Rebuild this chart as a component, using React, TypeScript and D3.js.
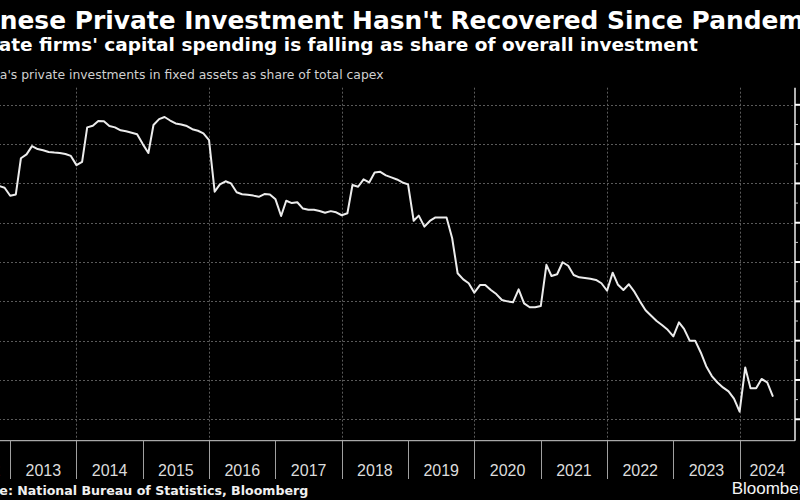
import React, { useEffect } from "react";
import * as d3 from "d3";

// ---- Data (share of private investment in fixed-asset investment, %) ----
const firstMonth = new Date(2012, 10, 1); // Nov 2012
const share2012 = [61.87, 61.78];
const share2013 = [61.37, 61.44, 63.28, 63.48, 63.9, 63.75, 63.69, 63.6, 63.57, 63.55, 63.5, 63.4];
const share2014 = [62.93, 63.1, 64.85, 64.93, 65.17, 65.16, 64.92, 64.85, 64.7, 64.65, 64.58, 64.5];
const share2015 = [64.0, 63.55, 64.97, 65.27, 65.38, 65.2, 65.05, 65.0, 64.92, 64.76, 64.68, 64.55];
const share2016 = [64.2, 61.58, 61.95, 62.11, 62.0, 61.55, 61.45, 61.42, 61.38, 61.32, 61.46, 61.44];
const share2017 = [61.19, 60.34, 61.12, 61.0, 61.04, 60.72, 60.66, 60.66, 60.6, 60.51, 60.59, 60.53];
const share2018 = [60.38, 60.48, 61.92, 61.83, 62.21, 62.05, 62.56, 62.59, 62.41, 62.31, 62.2, 62.05];
const share2019 = [61.95, 60.1, 60.36, 59.8, 60.09, 60.27, 60.27, 60.27, 59.21, 57.43, 57.12, 56.92];
const share2020 = [56.44, 56.83, 56.83, 56.58, 56.37, 56.07, 56.0, 55.95, 56.61, 55.9, 55.7, 55.7];
const share2021 = [55.76, 57.86, 57.29, 57.38, 57.99, 57.81, 57.34, 57.22, 57.19, 57.15, 57.09, 56.92];
const share2022 = [56.54, 57.46, 56.86, 56.58, 56.87, 56.48, 56.0, 55.55, 55.27, 55.0, 54.78, 54.55];
const share2023 = [54.22, 54.93, 54.6, 54.0, 54.0, 53.4, 52.7, 52.2, 51.87, 51.62, 51.42, 51.05];
const share2024 = [50.39, 52.64, 51.58, 51.58, 52.05, 51.88, 51.19];

const yearLabels = [2012, 2013, 2014, 2015, 2016, 2017, 2018, 2019, 2020, 2021, 2022, 2023, 2024];
const gridYears = [2014, 2016, 2018, 2020, 2022, 2024];
const majorTicks = [50, 52, 54, 56, 58, 60, 62, 64, 66];
const minorTicks = [51, 53, 55, 57, 59, 61, 63, 65];

const title = "Chinese Private Investment Hasn't Recovered Since Pandemic";
const subtitle = "Private firms' capital spending is falling as share of overall investment";
const axisLabel = "China's private investments in fixed assets as share of total capex";
const source = "Source: National Bureau of Statistics, Bloomberg";

const W = 800;
const H = 500;
const left = -41;
const right = 795;
const top = 87.7;
const bottom = 440.7;

export default function App() {
  useEffect(() => {
    document.body.style.margin = "0";
    document.body.style.background = "#000";
  }, []);

  const values = [
    ...share2012, ...share2013, ...share2014, ...share2015, ...share2016, ...share2017,
    ...share2018, ...share2019, ...share2020, ...share2021, ...share2022, ...share2023, ...share2024,
  ];
  const data = values.map((v, i) => ({ date: d3.timeMonth.offset(firstMonth, i), v }));

  const x = d3
    .scaleTime()
    .domain([new Date(2012, 2, 25), new Date(2024, 10, 1)])
    .range([left, right]);
  const y = d3.scaleLinear().domain([48.91, 66.87]).range([bottom, top]);

  const line = d3
    .line<{ date: Date; v: number }>()
    .x((d) => x(d.date))
    .y((d) => y(d.v));

  const sans = "'DejaVu Sans', Verdana, sans-serif";
  const ls = "'Liberation Sans', Arial, sans-serif";

  return (
    <svg
      width={W}
      height={H}
      viewBox={`0 0 ${W} ${H}`}
      style={{ position: "absolute", left: 0, top: 0, display: "block", background: "#000", overflow: "hidden" }}
    >
      <rect x={0} y={0} width={W} height={H} fill="#000" />
      <text x={-44.8} y={28.5} fill="#fff" fontFamily={sans} fontWeight="bold" fontSize={24.9}>
        {title}
      </text>
      <text x={-42.4} y={50.5} fill="#fff" fontFamily={sans} fontWeight="bold" fontSize={18.5}>
        {subtitle}
      </text>
      <text x={-28} y={79} fill="#d0d0d0" fontFamily={sans} fontSize={12.4}>
        {axisLabel}
      </text>

      {/* horizontal grid */}
      {majorTicks.map((t) => (
        <line
          key={"h" + t}
          x1={left}
          x2={right}
          y1={Math.round(y(t)) + 0.5}
          y2={Math.round(y(t)) + 0.5}
          stroke="#5a5a5a"
          strokeWidth={1}
          strokeDasharray="2,2"
        />
      ))}
      {/* vertical grid */}
      {gridYears.map((yr) => {
        const gx = Math.round(x(new Date(yr, 0, 1))) + 0.5;
        return (
          <line key={"v" + yr} x1={gx} x2={gx} y1={top} y2={bottom} stroke="#5a5a5a" strokeWidth={1} strokeDasharray="2,2" />
        );
      })}

      {/* bottom axis */}
      <line x1={left} x2={right} y1={bottom} y2={bottom} stroke="#cfcfcf" strokeWidth={1} />
      {yearLabels.slice(1).map((yr) => {
        const sx = Math.round(x(new Date(yr, 0, 1))) + 0.5;
        return <line key={"s" + yr} x1={sx} x2={sx} y1={bottom} y2={479} stroke="#a0a0a0" strokeWidth={1} />;
      })}
      {yearLabels.map((yr) => {
        const a = Math.max(x(new Date(yr, 0, 1)), left - 4);
        const b = Math.min(x(new Date(yr + 1, 0, 1)), right);
        return (
          <text
            key={"l" + yr}
            x={(a + b) / 2}
            y={476}
            textAnchor="middle"
            fill="#dcdcdc"
            fontFamily={ls}
            fontSize={16}
          >
            {yr}
          </text>
        );
      })}

      {/* right axis */}
      <line x1={right} x2={right} y1={top} y2={bottom} stroke="#eeeeee" strokeWidth={1.5} />
      {majorTicks.map((t) => (
        <line key={"mt" + t} x1={right} x2={802} y1={y(t)} y2={y(t)} stroke="#ffffff" strokeWidth={2} />
      ))}
      {minorTicks.map((t) => (
        <line key={"nt" + t} x1={right} x2={798} y1={y(t)} y2={y(t)} stroke="#cccccc" strokeWidth={1} />
      ))}

      {/* data line */}
      <path d={line(data) || ""} fill="none" stroke="#ececec" strokeWidth={2} strokeLinejoin="round" strokeLinecap="round" />

      <text x={left} y={495} fill="#f0f0f0" fontFamily={sans} fontWeight="bold" fontSize={12.6}>
        {source}
      </text>
      <text x={731.7} y={494} fill="#f5f5f5" fontFamily={ls} fontSize={17}>
        Bloomberg
      </text>
    </svg>
  );
}
